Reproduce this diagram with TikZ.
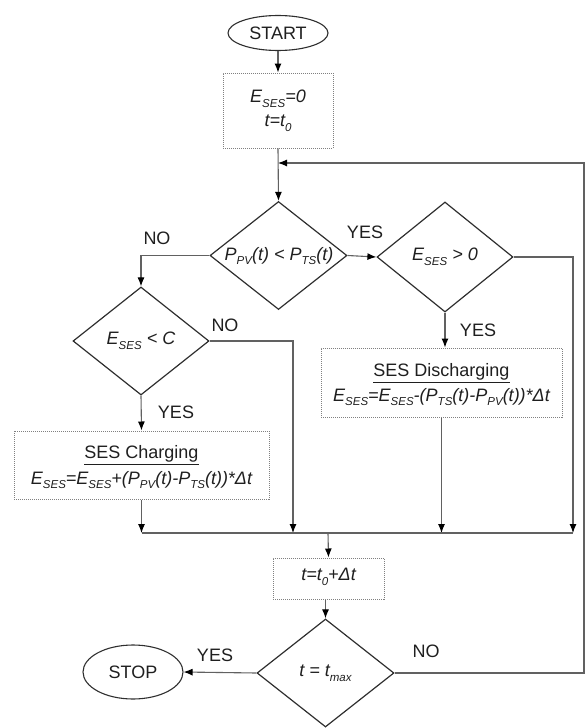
\documentclass[tikz,border=0pt]{standalone}
\usepackage{fontspec}
\setmainfont{Liberation Sans}
\usetikzlibrary{shapes.geometric,arrows.meta}
\newcommand\sbs[1]{\raisebox{-4.5pt}{\fontsize{11.5}{12}\selectfont #1}}
\begin{document}
\begin{tikzpicture}[x=1pt,y=-1pt,
  every node/.style={font=\fontsize{18}{22}\selectfont, text=black!88},
  line/.style={draw=black!62, line width=1.1pt},
  arr/.style={line, -{Latex[length=9pt,width=7pt,color=black]}},
  dia/.style={diamond, draw=black!82, line width=1.2pt, inner sep=0pt, minimum width=137pt, minimum height=108pt},
  ell/.style={ellipse, draw=black!82, line width=1.1pt, inner sep=0pt},
  dbox/.style={draw=black!50, line width=1pt, dash pattern=on 1pt off 1pt, inner sep=0pt, align=center},
  ftxt/.style={font=\fontsize{18}{24}\selectfont\itshape, inner sep=0pt, align=center},
  lbl/.style={inner sep=0pt}
]
\useasboundingbox (0,0) rectangle (586,728);

% nodes
\node[ell, minimum width=100pt, minimum height=35pt] (start) at (278,33) {START};
\node[dbox, minimum width=110pt, minimum height=75pt] (init) at (278,110.5) {};
\node[ftxt] (initt) at (278,111) {E\sbs{SES}=0\\t=t\sbs{0}};

\node[dia] (d1) at (278.5,255.5) {};
\node[ftxt] (d1t) at (279,256) {P\sbs{PV}(t) < P\sbs{TS}(t)};

\node[dia, minimum width=136pt, minimum height=110pt] (d2) at (445,257) {};
\node[ftxt] (d2t) at (445,257) {E\sbs{SES} > 0};

\node[dia, minimum width=136pt] (d3) at (141,341) {};
\node[ftxt] (d3t) at (141,341) {E\sbs{SES} < C};

\node[dbox, minimum width=241pt, minimum height=69pt] (dis) at (441.5,382.5) {};
\node[lbl] (dish) at (441.5,373) {\underline{SES Discharging}};
\node[ftxt] (disf) at (441.5,397) {E\sbs{SES}=E\sbs{SES}-(P\sbs{TS}(t)-P\sbs{PV}(t))*Δt};

\node[dbox, minimum width=255pt, minimum height=68pt] (chg) at (141.5,465) {};
\node[lbl] (chgh) at (141.5,455) {\underline{SES Charging}};
\node[ftxt] (chgf) at (141.5,480) {E\sbs{SES}=E\sbs{SES}+(P\sbs{PV}(t)-P\sbs{TS}(t))*Δt};

\node[dbox, minimum width=111pt, minimum height=41pt] (tb) at (328.5,578.5) {};
\node[ftxt] (tbt) at (328.5,577) {t=t\sbs{0}+Δt};

\node[dia] (d4) at (325.5,673) {};
\node[ftxt] (d4t) at (325.5,673) {t = t\sbs{max}};

\node[ell, minimum width=100pt, minimum height=54pt] (stop) at (133,672) {STOP};

% labels
\node[lbl] (l1) at (157,238) {NO};
\node[lbl] (l2) at (365,232) {YES};
\node[lbl] (l3) at (478,330) {YES};
\node[lbl] (l4) at (225,325) {NO};
\node[lbl] (l5) at (176,412) {YES};
\node[lbl] (l6) at (215,655) {YES};
\node[lbl] (l7) at (426,651) {NO};

% helper coordinates
\coordinate (mL) at (141.5,533);
\coordinate (mR) at (573,533);
\coordinate (m2) at (293,533);
\coordinate (mid) at (328,533);
\coordinate (lpA) at (584,673);
\coordinate (lpB) at (584,163);

% connectors
\draw[arr] (start) -- (init);
\draw[arr] (init.south) -- (d1.north);
\draw[arr] (d4.east) -- (lpA) -- (lpB) -- (lpB -| init.south);
\draw[arr] (d1.west) -| (d3.north);
\draw[arr] (d1.east) -- (d2.west);
\draw[arr] (d2.east) -| (mR);
\draw[arr] (d2.south) -- (d2.south |- dis.north);
\draw[arr] (dis.south) -- (dis.south |- mL);
\draw[arr] (d3.south) -- (chg.north);
\draw[arr] (chg.south) -- (chg.south |- mL);
\draw[arr] (d3.east) -| (m2);
\draw[line] (mL) -- (mR);
\draw[arr] (mid) -- (tb.north);
\draw[arr] (d4.north |- tb.south) -- (d4.north);
\draw[arr] (d4.west) -- (stop.east);
\end{tikzpicture}
\end{document}
